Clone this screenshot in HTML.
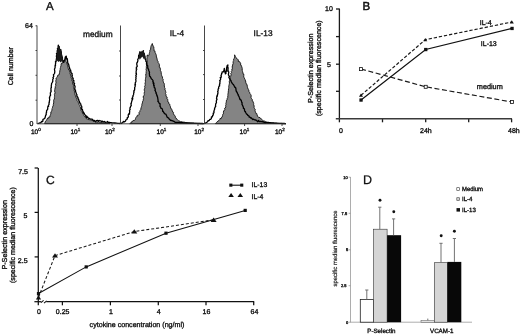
<!DOCTYPE html>
<html><head><meta charset="utf-8">
<style>
html,body{margin:0;padding:0;background:#fff;width:520px;height:334px;overflow:hidden}
svg{display:block;filter:grayscale(1)}
text{font-family:"Liberation Sans",sans-serif;text-rendering:geometricPrecision;fill:#111;stroke:#111;stroke-width:0.34px}
</style></head><body>
<svg width="520" height="334" viewBox="0 0 520 334">
<!-- ================= PANEL A ================= -->
<text x="46" y="9.6" font-size="11.5" style="stroke-width:0.35px">A</text>
<text x="25.1" y="28.2" font-size="7">64</text>
<text x="29.4" y="125.7" font-size="7">0</text>
<text transform="translate(12.8,85.3) rotate(-90)" font-size="7.1">Cell number</text>

<!--HIST-START-->
<polygon fill="#848484" stroke="#111" stroke-width="0.9" stroke-linejoin="round" points="44.5,123.6 44.9,122.9 45.2,121.8 45.9,121.0 46.2,120.6 46.5,120.0 47.1,119.2 47.7,118.0 48.5,118.3 48.9,116.9 49.8,117.1 50.1,115.6 50.6,114.4 50.9,113.8 50.6,112.7 51.1,112.7 51.3,111.6 51.8,110.5 52.0,109.3 51.9,108.6 52.5,108.0 52.5,107.4 52.8,106.2 53.3,105.8 53.0,104.9 53.4,104.4 53.6,102.9 53.9,101.8 53.7,101.8 53.6,100.6 53.6,100.0 54.3,99.1 54.5,98.0 54.4,97.5 54.4,96.5 54.7,96.3 54.5,95.2 54.3,94.4 54.8,94.0 55.0,92.3 54.8,92.0 54.6,90.9 54.8,89.6 54.8,89.6 55.0,88.1 55.3,88.0 55.1,86.6 55.5,86.3 55.8,85.4 55.5,84.0 55.7,83.7 56.2,82.0 55.7,81.2 55.8,80.6 56.2,79.5 55.9,78.8 56.2,78.1 57.2,77.2 57.5,76.1 58.1,74.8 58.8,75.0 59.3,74.4 59.4,72.9 59.7,72.2 59.8,70.6 60.1,69.9 60.3,69.0 60.2,68.2 60.4,67.7 60.5,67.4 61.0,65.6 61.0,64.8 61.2,63.5 62.1,63.8 62.3,62.5 63.0,61.5 63.8,60.7 64.7,59.6 64.7,59.5 65.5,57.6 66.3,56.9 66.3,59.1 66.4,59.7 65.9,60.3 66.1,61.8 66.7,62.8 66.8,63.2 67.4,65.1 67.7,65.9 67.9,66.8 67.8,67.4 68.2,67.6 68.3,68.7 68.8,70.1 69.6,70.6 69.9,72.1 70.2,72.3 70.0,73.2 70.3,74.1 70.8,75.8 71.1,76.1 71.2,77.3 70.9,77.9 71.7,78.8 71.9,79.3 71.8,80.5 72.3,81.4 72.9,81.7 72.6,83.1 73.0,83.0 72.8,83.8 73.5,85.4 73.1,86.2 73.8,86.8 73.5,87.5 73.5,87.6 74.2,89.2 74.1,90.4 74.3,91.2 74.7,91.3 74.5,92.3 74.7,93.4 75.0,94.0 75.1,95.4 75.5,95.6 75.9,97.0 76.1,97.8 76.5,98.0 76.8,98.2 77.1,99.1 77.1,100.6 77.5,101.0 78.2,101.8 78.3,102.5 78.7,103.6 78.7,104.1 79.1,104.5 79.8,105.5 79.9,106.6 80.4,107.0 80.5,107.9 80.6,108.9 80.9,109.5 81.2,110.8 81.7,111.4 82.3,111.4 82.3,112.9 83.0,112.7 82.9,113.9 83.3,114.4 83.8,115.7 84.8,116.6 84.9,117.0 85.7,116.9 86.4,118.6 86.7,119.0 87.7,119.0 89.0,119.9 89.2,119.7 90.4,119.9 91.0,120.2 92.3,120.1 93.0,120.9 93.5,121.0 94.7,121.4 95.1,122.1 96.4,122.3 96.7,121.6 97.5,122.4 98.4,121.7 99.4,122.3 100.2,122.5 101.0,122.6 101.8,122.7 102.7,122.8 103.5,122.9 104.3,123.0 105.2,123.1 106.0,123.2 106.8,123.3 107.6,123.4 108.4,123.4 109.2,123.5 110.0,123.6"/>
<polyline fill="none" stroke="#000" stroke-width="1.3" stroke-linejoin="round" points="37.5,123.6 38.3,123.3 39.2,123.1 40.0,122.8 40.6,122.9 41.7,121.5 41.8,121.9 42.9,121.1 42.9,119.4 43.9,119.2 43.8,119.1 45.0,118.0 45.2,117.1 45.4,116.3 45.9,114.8 46.2,114.8 46.2,112.9 46.6,112.2 46.5,111.3 46.6,110.6 47.1,110.0 47.7,109.2 47.7,108.2 47.8,107.2 47.9,106.5 48.6,106.4 48.3,105.6 49.1,104.2 49.1,103.9 49.0,103.6 49.1,102.3 49.4,102.2 49.3,101.1 49.7,100.0 49.6,98.8 49.4,97.7 49.6,97.7 49.9,96.1 49.8,96.3 50.6,95.2 50.3,93.8 50.4,93.3 50.4,92.5 50.6,92.4 51.3,91.0 50.9,90.7 51.0,89.0 50.9,88.2 51.4,87.5 51.3,86.6 51.3,85.4 51.5,84.7 51.6,83.3 52.0,82.8 52.4,82.3 52.7,81.6 52.8,81.1 52.7,79.5 53.4,78.4 53.3,78.2 52.9,77.7 53.7,76.6 53.7,76.0 53.4,74.8 53.8,74.5 54.5,73.5 54.7,72.5 54.8,71.4 54.5,69.7 54.5,69.3 54.5,69.1 55.0,68.0 55.1,67.3 55.1,65.5 55.5,65.7 55.4,64.6 55.6,63.2 55.8,62.7 55.4,61.9 56.1,61.0 56.2,61.3 56.2,59.6 56.3,59.3 56.6,58.3 56.6,56.7 56.3,56.2 56.8,55.4 56.8,54.2 56.4,53.7 57.1,53.5 57.2,52.1 57.2,51.6 57.3,50.3 57.7,49.6 58.0,49.8 57.4,48.3 58.3,48.2 58.1,46.3 58.1,46.5 58.3,45.1 58.4,46.0 59.2,46.5 59.3,48.0 59.4,49.1 58.9,50.2 59.2,49.8 58.8,51.3 59.3,51.9 59.1,52.8 59.4,52.5 59.3,51.4 60.2,49.5 60.9,49.8 61.0,50.0 60.7,51.0 61.4,52.1 61.1,52.9 61.3,53.4 61.5,55.5 61.8,56.6 62.0,56.7 62.4,57.6 62.4,59.6 63.0,60.4 62.9,61.6 63.8,62.4 64.4,60.4 64.8,59.8 65.2,59.0 65.2,57.1 66.1,56.1 66.4,56.9 66.5,58.4 67.4,58.8 67.4,59.8 67.6,61.0 67.6,61.6 67.9,63.7 68.4,63.7 69.0,65.8 68.9,65.6 68.9,66.4 69.4,67.2 69.6,68.3 70.2,70.0 70.7,70.1 70.7,71.1 71.0,71.9 71.0,72.8 72.1,73.6 71.9,75.1 72.4,75.3 72.0,76.1 72.3,77.2 73.0,78.6 73.2,78.3 72.9,80.1 73.9,80.6 73.8,80.7 73.8,82.8 74.4,83.5 74.6,83.4 74.1,84.1 74.6,85.7 75.1,86.5 74.9,87.4 74.9,87.9 74.7,89.0 75.1,90.1 75.6,90.1 75.4,90.9 76.0,92.4 75.8,92.3 76.4,93.8 76.5,94.1 76.9,94.6 76.8,96.0 77.7,97.1 78.0,97.6 77.8,98.0 78.7,99.4 78.5,99.2 78.9,100.8 79.2,101.0 79.7,102.7 79.7,102.2 80.1,103.5 80.7,103.9 81.0,105.4 81.1,105.5 81.7,106.4 81.8,107.1 81.6,108.7 81.9,109.7 82.4,109.4 82.6,110.4 83.3,111.9 83.2,111.9 83.7,113.4 84.1,112.9 84.5,114.2 85.6,115.6 86.0,116.4 86.7,116.1 86.5,117.6 87.5,116.9 88.3,117.9 88.9,118.4 89.5,118.4 90.5,119.2 91.9,119.2 92.8,119.6 93.2,120.8 94.5,120.5 94.6,120.7 95.7,121.4 96.4,120.7 97.8,120.3 98.2,121.5 99.3,120.5 99.5,120.6 101.1,121.0 101.8,122.0 102.2,121.2 103.6,121.8 103.8,122.0 104.6,121.5 105.2,122.3 106.7,122.2 107.6,121.5 107.8,122.3 108.8,122.4 109.6,122.5 110.4,122.6 111.2,122.7 112.0,122.8 112.8,122.9 113.6,122.9 114.4,123.0 115.2,123.0 116.0,123.1 116.8,123.2 117.6,123.3 118.4,123.3 119.2,123.4 120.0,123.5"/>
<polygon fill="#848484" stroke="#111" stroke-width="0.9" stroke-linejoin="round" points="129.7,123.6 130.5,122.9 131.6,122.8 131.9,121.3 132.8,121.1 134.0,120.2 134.7,120.3 135.3,119.6 135.6,118.3 135.9,117.6 136.8,116.5 136.9,116.7 137.4,115.2 137.8,115.2 138.5,115.1 139.2,114.3 139.0,112.5 139.2,112.2 139.9,111.4 139.8,110.7 140.4,110.2 140.8,109.5 141.0,107.8 141.4,107.2 141.5,106.4 141.9,105.3 141.8,104.5 141.9,104.4 142.4,102.9 142.4,102.9 142.7,101.2 143.1,100.8 143.4,99.4 143.2,99.4 143.6,98.6 143.2,97.0 143.4,96.0 144.1,95.6 144.3,94.5 144.4,93.7 144.0,93.3 144.6,91.6 144.5,91.4 144.3,90.2 144.3,89.2 144.5,88.8 144.9,87.5 144.5,86.8 145.1,85.7 144.9,84.9 145.3,84.4 144.9,83.0 145.2,82.7 145.5,81.3 145.2,81.1 145.4,79.7 145.4,79.7 145.5,78.5 145.6,77.5 146.0,77.4 145.8,75.6 146.1,74.8 145.6,74.9 146.0,74.0 146.1,73.3 146.2,71.6 145.9,71.3 146.4,70.9 146.0,69.7 146.3,68.8 146.1,67.7 146.5,67.7 146.2,66.4 146.7,66.2 146.3,64.4 146.9,64.6 146.6,62.6 147.0,62.2 147.0,61.6 147.0,60.2 147.0,59.4 146.8,59.3 147.1,57.6 146.8,57.0 147.2,56.1 147.1,55.1 147.7,55.0 147.6,55.6 148.5,55.9 148.8,55.2 149.0,54.9 149.3,53.8 149.3,53.3 149.5,52.6 149.8,51.5 149.7,50.9 150.2,49.7 150.6,49.5 150.7,47.9 150.9,46.9 150.9,46.4 151.2,45.6 151.9,44.3 152.3,43.5 152.7,45.2 152.9,45.1 153.2,46.4 153.8,46.8 153.9,48.7 154.1,49.2 153.9,50.2 154.4,51.0 154.9,50.8 155.1,52.7 155.0,52.9 155.8,53.6 156.1,54.6 156.3,55.2 156.4,57.0 156.4,57.0 157.0,58.1 157.0,58.9 157.5,60.8 158.2,61.7 158.1,62.4 158.4,63.0 159.0,63.7 159.4,64.8 159.4,66.1 159.2,67.1 159.8,67.2 160.1,68.0 160.5,69.2 160.2,70.3 160.5,70.5 160.9,71.2 161.2,72.3 161.3,74.1 161.5,74.6 161.6,74.7 161.7,75.7 162.4,76.9 162.6,78.5 162.6,78.7 163.2,79.4 163.0,80.7 163.3,81.6 163.6,82.8 164.1,83.2 164.4,84.5 164.2,85.9 164.4,85.9 164.5,87.4 165.2,88.4 165.0,88.7 164.9,90.0 165.4,90.4 165.6,91.3 165.9,92.5 165.5,93.5 165.5,93.8 166.0,94.4 166.0,96.0 166.3,96.6 167.2,97.1 166.9,98.4 167.4,99.3 167.9,99.5 167.8,100.5 167.9,102.0 168.9,102.6 168.7,103.6 169.6,104.0 169.9,104.9 169.9,105.4 170.3,106.2 170.7,108.0 171.3,109.0 171.8,109.2 172.0,110.2 172.5,111.1 172.5,112.0 173.3,112.2 173.6,112.7 173.4,113.7 174.3,115.3 174.7,115.4 175.3,116.2 175.3,117.7 176.3,118.2 177.0,119.3 177.5,119.9 178.3,120.5 178.9,121.0 179.7,121.1 180.3,121.6 181.1,122.2 182.0,121.3 182.8,122.6 183.9,121.9 184.9,122.4 185.7,122.5 186.6,122.6 187.4,122.6 188.3,122.7 189.1,122.8 190.0,122.9 190.9,123.0 191.7,123.0 192.6,123.1 193.4,123.1 194.3,123.2 195.1,123.2 196.0,123.3 196.9,123.3 197.8,123.4 198.6,123.4 199.5,123.4 200.4,123.5 201.2,123.5 202.1,123.6 203.0,123.6"/>
<polyline fill="none" stroke="#000" stroke-width="1.3" stroke-linejoin="round" points="120.6,123.6 121.3,123.3 122.1,122.9 122.8,122.6 123.3,121.5 124.7,121.8 125.5,121.1 125.8,120.1 126.6,119.5 127.4,118.7 127.2,117.8 128.4,117.0 128.2,115.0 128.7,113.8 129.5,114.0 129.5,113.2 129.7,111.5 129.5,110.3 130.2,109.6 130.0,109.0 129.9,107.9 130.3,107.7 130.6,106.3 131.2,105.7 131.3,105.0 130.8,103.8 131.3,103.5 131.4,102.6 131.8,101.1 132.2,100.1 132.4,99.4 131.9,98.6 132.8,98.8 132.4,97.3 133.0,96.8 133.0,95.5 133.4,95.1 133.6,94.4 133.7,92.6 134.2,92.1 133.8,91.4 133.9,90.8 134.6,90.0 134.7,88.5 134.6,87.7 135.1,86.4 135.3,85.5 134.8,84.9 135.5,84.4 135.2,84.0 135.3,82.6 135.7,82.1 136.0,81.1 135.8,79.8 135.7,79.6 136.1,78.6 135.8,77.3 136.3,76.7 135.8,75.7 136.5,74.5 135.9,73.7 136.4,73.6 136.0,71.8 136.2,71.2 136.4,70.1 136.3,69.3 136.9,69.2 136.3,68.6 136.4,67.0 137.2,66.7 137.1,65.3 136.8,64.8 136.8,63.3 137.2,62.2 137.3,62.4 137.8,61.1 137.9,60.1 137.7,59.4 138.1,58.7 138.7,57.4 138.6,57.0 138.6,55.4 139.0,55.4 139.2,54.3 139.6,53.3 139.8,51.9 139.8,53.2 139.8,53.9 140.6,55.3 140.7,53.8 140.7,53.2 141.0,52.2 141.2,52.1 141.1,52.5 141.8,52.9 141.8,54.5 141.8,53.0 142.2,52.4 143.5,50.8 142.9,51.7 143.5,52.7 143.6,53.4 144.1,54.0 144.3,53.8 144.3,54.4 144.7,55.5 144.6,56.7 145.0,56.4 145.1,57.7 145.1,58.6 145.6,59.8 145.8,60.0 145.9,61.5 146.8,62.0 146.4,63.3 146.8,63.3 146.9,64.9 147.7,65.7 147.7,66.6 147.8,68.1 148.1,68.6 148.7,69.7 148.6,69.8 148.8,70.5 149.3,71.7 149.5,72.6 149.3,73.5 149.5,74.4 149.6,76.2 150.3,76.6 150.9,77.9 151.5,79.0 152.3,79.5 153.2,81.0 152.7,81.8 153.6,82.6 153.2,83.6 153.9,83.3 153.6,85.4 154.3,85.3 154.0,85.9 154.3,87.6 154.6,87.5 155.3,89.3 154.9,90.3 155.5,91.0 155.7,92.1 156.2,92.7 156.0,93.3 156.6,94.1 156.8,95.3 157.1,95.3 157.1,96.1 157.5,96.9 157.7,97.9 157.9,99.2 158.1,100.6 157.9,101.5 158.6,101.9 159.1,103.1 159.2,103.3 160.0,103.7 160.1,105.3 159.9,106.1 160.8,107.4 160.9,108.3 161.5,108.5 162.3,108.8 162.6,110.5 162.8,111.5 163.3,111.7 164.0,112.9 164.3,113.1 164.9,113.9 165.8,114.2 166.3,115.0 166.5,115.5 167.2,117.3 168.0,117.8 168.5,117.9 169.1,118.9 170.1,119.8 170.3,120.3 171.8,120.5 171.9,120.5 172.6,120.8 174.4,121.7 175.1,122.3 176.3,122.4 176.9,122.4 177.6,122.3 178.4,122.4 179.2,122.4 180.0,122.5 180.9,122.6 181.7,122.6 182.6,122.7 183.4,122.8 184.3,122.9 185.1,122.9 186.0,123.0 186.8,123.0 187.6,123.1 188.5,123.1 189.3,123.1 190.1,123.1 190.9,123.2 191.7,123.2 192.5,123.2 193.4,123.2 194.2,123.3 195.0,123.3 195.8,123.3 196.6,123.4 197.5,123.4 198.3,123.4 199.1,123.4 199.9,123.5 200.7,123.5 201.5,123.5 202.4,123.5 203.2,123.6 204.0,123.6"/>
<polygon fill="#848484" stroke="#111" stroke-width="0.9" stroke-linejoin="round" points="215.3,123.6 215.9,123.0 216.4,122.5 217.1,122.0 218.1,120.9 219.1,120.5 219.9,119.3 220.1,118.4 221.2,118.7 221.6,117.2 222.3,116.9 222.6,115.4 222.7,114.7 223.0,113.8 223.5,113.5 223.4,112.2 223.7,110.7 224.5,110.4 224.9,109.4 224.5,108.4 225.2,108.2 225.8,106.8 225.6,105.4 226.0,104.7 225.8,103.6 225.9,103.5 226.1,102.9 226.3,101.9 226.5,100.1 227.1,99.5 227.3,98.6 227.0,98.5 227.7,97.7 227.8,95.9 227.9,95.8 227.9,95.2 227.9,94.3 228.3,92.3 228.0,92.2 228.6,90.7 228.4,90.7 228.4,90.0 228.7,88.3 228.7,88.1 228.8,87.4 228.7,86.6 228.9,85.6 229.2,84.5 229.1,84.1 229.5,83.2 229.3,81.8 229.1,81.8 229.7,80.8 229.6,79.7 230.2,79.2 230.1,77.8 230.2,77.7 230.5,76.7 230.8,76.1 231.1,74.4 230.7,73.5 231.2,73.0 231.6,72.5 231.2,71.5 231.9,70.6 231.9,69.0 232.3,68.8 232.3,68.0 232.2,66.1 232.6,66.1 232.5,65.1 233.2,63.6 233.1,63.2 233.1,61.8 233.1,61.7 233.7,60.6 233.3,60.2 234.0,58.7 234.1,58.5 234.6,57.1 234.5,56.3 234.6,54.8 235.5,56.7 236.1,57.6 236.5,58.5 237.2,58.7 238.4,60.0 238.2,61.4 239.8,61.8 240.2,62.8 240.7,63.2 240.6,65.2 241.4,65.4 241.4,65.9 241.8,66.9 242.2,68.3 242.3,69.6 242.1,69.4 242.3,70.5 242.5,71.3 243.0,73.1 243.2,74.2 243.8,74.1 243.8,75.4 243.7,77.1 244.1,77.5 244.7,78.9 245.0,79.2 245.2,79.9 245.8,81.8 245.6,81.6 245.9,82.9 246.7,84.5 247.0,84.5 247.3,86.3 247.6,87.6 247.5,87.6 248.4,89.5 248.7,89.8 249.0,91.1 248.9,91.4 249.3,91.9 249.8,92.8 250.0,93.7 250.7,94.5 251.2,95.6 251.0,97.5 251.5,98.5 252.4,99.5 252.1,99.8 252.4,101.2 253.2,101.6 253.2,102.1 253.6,103.2 253.7,103.7 253.6,104.5 254.2,106.1 254.0,107.4 254.4,107.9 254.6,108.7 255.3,109.6 255.0,110.6 255.4,111.9 255.6,112.7 255.8,113.3 256.6,113.3 256.9,114.1 257.1,114.8 257.6,116.5 258.7,117.3 258.7,117.3 260.0,117.6 260.5,118.5 261.3,118.7 261.9,119.6 262.1,119.7 263.2,120.8 263.5,121.0 264.8,121.1 265.3,121.3 265.8,122.4 266.8,122.4 267.6,122.5 268.4,122.6 269.3,122.6 270.1,122.7 270.9,122.8 271.7,122.9 272.5,123.0 273.4,123.0 274.2,123.1 275.0,123.2 275.8,123.2 276.7,123.3 277.5,123.3 278.4,123.3 279.2,123.4 280.1,123.4 280.9,123.4 281.8,123.4 282.6,123.5 283.5,123.5 284.3,123.5 285.2,123.6 286.0,123.6"/>
<polyline fill="none" stroke="#000" stroke-width="1.3" stroke-linejoin="round" points="204.3,123.6 205.2,123.2 206.0,122.7 206.8,122.3 207.8,121.5 208.0,120.7 209.2,120.6 209.7,119.4 210.7,119.3 211.4,118.4 211.4,117.0 212.4,116.8 212.6,115.5 213.0,115.1 213.3,115.1 213.2,113.1 213.8,113.0 214.1,111.8 213.8,111.7 214.3,109.9 214.6,109.6 214.5,108.7 215.0,107.8 214.9,107.2 215.7,106.6 215.5,105.5 215.7,104.7 215.6,104.0 216.5,102.6 216.3,101.8 216.5,100.2 217.0,99.6 216.5,98.5 216.7,98.6 216.7,96.7 217.4,96.0 217.0,95.6 217.6,94.6 217.8,93.1 218.1,93.1 217.6,91.4 218.1,91.0 218.1,89.5 218.4,88.5 218.7,88.5 218.6,87.2 219.3,85.8 219.6,86.0 219.5,84.4 220.0,83.6 219.7,83.3 220.1,81.6 219.7,80.7 219.9,80.7 220.5,79.7 220.7,78.8 220.2,77.5 221.4,77.1 221.0,75.6 221.5,74.6 221.6,73.4 222.0,73.3 222.1,72.0 223.3,71.9 223.8,70.7 224.0,70.3 224.3,68.3 224.5,69.7 224.8,70.7 225.0,72.6 225.3,72.7 225.4,73.9 226.1,73.0 225.9,72.7 225.9,71.8 226.8,70.9 226.3,70.1 226.7,68.8 226.5,68.0 226.8,67.4 227.0,66.3 227.1,65.8 227.9,65.0 227.8,65.9 227.6,66.8 227.9,67.4 228.2,68.1 228.0,68.6 228.0,69.9 228.2,70.8 228.0,71.3 228.8,72.0 228.6,73.2 228.4,74.7 228.6,75.3 228.6,75.1 229.4,76.5 228.8,77.3 229.6,78.8 229.9,79.1 231.1,80.8 231.0,81.3 231.8,82.7 232.6,84.0 233.3,84.3 233.8,85.3 234.3,86.0 234.8,87.3 235.4,87.4 235.8,88.1 236.0,89.7 236.1,91.0 236.5,91.1 237.0,92.5 237.3,92.8 237.6,93.8 238.2,94.5 238.3,95.6 238.7,96.0 239.4,97.5 239.5,97.6 239.6,98.3 240.0,99.5 240.7,99.6 241.4,100.8 241.7,102.5 242.1,102.6 242.0,104.6 242.0,104.3 242.8,105.9 243.4,107.2 243.4,108.3 243.8,108.4 244.4,109.0 244.5,110.1 244.8,111.3 245.5,111.5 245.3,112.0 246.0,113.0 246.5,114.1 247.5,114.4 247.7,115.4 248.9,115.8 249.2,117.0 249.5,116.8 250.8,118.1 251.0,117.7 252.1,118.8 252.8,119.6 253.6,119.1 253.7,119.3 254.9,120.0 255.6,119.9 256.9,120.8 257.6,121.7 258.7,120.5 259.3,121.7 260.1,121.7 260.7,121.4 262.3,121.9 262.9,121.5 263.6,122.1 264.2,122.3 265.2,122.9 266.1,122.2 266.8,122.4 267.6,122.5 268.4,122.5 269.2,122.6 270.0,122.7 270.9,122.8 271.7,122.8 272.6,122.9 273.4,123.0 274.3,123.1 275.1,123.1 276.0,123.2 276.8,123.2 277.7,123.3 278.5,123.3 279.3,123.3 280.2,123.4 281.0,123.4 281.8,123.4 282.7,123.5 283.5,123.5 284.3,123.5 285.2,123.6 286.0,123.6"/>
<polygon fill="#1a1a1a" points="56.4,60.0 57.0,52.0 58.0,47.5 58.6,45.5 59.5,48.0 61.0,50.0 62.0,54.0 62.8,58.0 63.0,61.0 61.5,61.5 60.5,62.5 59.5,61.0 58.5,62.0 57.5,61.0"/>
<polygon fill="#1a1a1a" points="138.5,58.5 138.9,55.0 139.3,52.5 139.8,51.0 140.3,53.0 140.8,51.8 141.3,50.5 141.8,52.5 142.3,51.5 142.9,50.3 143.4,52.0 143.9,51.3 144.5,53.5 145.0,55.5 145.4,58.5 144.8,59.8 144.2,58.0 143.6,59.2 143.0,57.5 142.4,56.5 141.8,58.0 141.2,57.0 140.6,59.5 140.0,58.0 139.3,59.7"/>
<!--HIST-END-->
<!-- axes panel A -->
<g stroke="#333" stroke-width="0.9" fill="none">
<line x1="37" y1="25.5" x2="37" y2="124"/>
<line x1="35.5" y1="25.8" x2="37" y2="25.8"/>
<line x1="35.5" y1="50.5" x2="37" y2="50.5"/>
<line x1="35.5" y1="75.3" x2="37" y2="75.3"/>
<line x1="35.5" y1="100.2" x2="37" y2="100.2"/>
<line x1="120.5" y1="25.5" x2="120.5" y2="124"/>
<line x1="119" y1="51" x2="120.5" y2="51"/>
<line x1="119" y1="76" x2="120.5" y2="76"/>
<line x1="119" y1="100" x2="120.5" y2="100"/>
<line x1="204.5" y1="25.5" x2="204.5" y2="124"/>
<line x1="203" y1="50.5" x2="204.5" y2="50.5"/>
<line x1="203" y1="74.6" x2="204.5" y2="74.6"/>
<line x1="203" y1="99.5" x2="204.5" y2="99.5"/>
<line x1="37.3" y1="123.8" x2="286" y2="123.8"/>
<line x1="77" y1="123.8" x2="77" y2="126"/>
<line x1="112" y1="123.8" x2="112" y2="126"/>
<line x1="160.3" y1="123.8" x2="160.3" y2="126"/>
<line x1="198" y1="123.8" x2="198" y2="126"/>
<line x1="244.6" y1="123.8" x2="244.6" y2="126"/>
<line x1="282" y1="123.8" x2="282" y2="126"/>
</g>
<g font-size="6.5">
<text x="31" y="133.8">10<tspan font-size="4.5" dy="-2.5">0</tspan></text>
<text x="70.5" y="133.8">10<tspan font-size="4.5" dy="-2.5">1</tspan></text>
<text x="105" y="133.8">10<tspan font-size="4.5" dy="-2.5">2</tspan></text>
<text x="156.6" y="133.8">10<tspan font-size="4.5" dy="-2.5">1</tspan></text>
<text x="194.2" y="133.8">10<tspan font-size="4.5" dy="-2.5">2</tspan></text>
<text x="239.6" y="133.8">10<tspan font-size="4.5" dy="-2.5">1</tspan></text>
<text x="275" y="133.8">10<tspan font-size="4.5" dy="-2.5">2</tspan></text>
</g>
<g font-size="8.3" style="stroke-width:0.5px">
<text x="83" y="36.5" textLength="29.6" lengthAdjust="spacingAndGlyphs">medium</text>
<text x="169.8" y="36.4">IL-4</text>
<text x="253.6" y="36.4">IL-13</text>
</g>

<!-- ================= PANEL B ================= -->
<text x="362.5" y="9.6" font-size="11.5" style="stroke-width:0.5px">B</text>
<g font-size="7">
<text x="325" y="10.8">10</text>
<text x="327" y="66.5">5</text>
<text x="339" y="133.3">0</text>
<text x="420" y="133.3">24h</text>
<text x="508" y="133.3">48h</text>
<text x="479.7" y="24.5">IL-4</text>
<text x="480.8" y="45.8">IL-13</text>
<text x="476.8" y="89.3" font-size="7.3">medium</text>
</g>
<text transform="translate(313,103) rotate(-90)" font-size="7.2">P-Selectin expression</text>
<text transform="translate(321.3,116.1) rotate(-90)" font-size="7.1">(specific median fluorescence)</text>
<g stroke="#1a1a1a" stroke-width="1.3" fill="none">
<line x1="339.4" y1="8.6" x2="339.4" y2="122.3"/>
<line x1="336" y1="9" x2="339.4" y2="9"/>
<line x1="336" y1="36.6" x2="339.4" y2="36.6"/>
<line x1="336" y1="64.2" x2="339.4" y2="64.2"/>
<line x1="336" y1="91.3" x2="339.4" y2="91.3"/>
<line x1="382.5" y1="118.8" x2="382.5" y2="122.3"/>
<line x1="425.7" y1="118.8" x2="425.7" y2="122.3"/>
<line x1="468.7" y1="118.8" x2="468.7" y2="122.3"/>
<line x1="511.6" y1="118.8" x2="511.6" y2="122.3"/>
</g>
<line x1="335.8" y1="118.8" x2="512" y2="118.8" stroke="#3a3a3a" stroke-width="1.4"/>
<!-- medium -->
<polyline fill="none" stroke="#1a1a1a" stroke-width="1.15" stroke-dasharray="5 2.6" points="361,69 425.7,86.8 512,102"/>
<!-- IL-4 -->
<polyline fill="none" stroke="#1a1a1a" stroke-width="1.2" stroke-dasharray="3.3 1.9" points="361,95.3 425.3,39.7 511.8,22"/>
<!-- IL-13 -->
<polyline fill="none" stroke="#111" stroke-width="1.25" points="361,100 425.7,49.5 512,28.4"/>
<g fill="#fff" stroke="#111" stroke-width="0.8">
<rect x="359.5" y="67.6" width="3" height="3"/>
<rect x="424.2" y="85.3" width="3" height="3"/>
<rect x="510.5" y="100.5" width="3" height="3"/>
</g>
<g fill="#111">
<rect x="359.4" y="98.4" width="3.3" height="3.3"/>
<rect x="424.1" y="47.9" width="3.3" height="3.3"/>
<rect x="510.4" y="26.8" width="3.3" height="3.3"/>
<polygon points="361,93.5 363,96.8 359,96.8"/>
<polygon points="425.3,38 427.3,41.3 423.3,41.3"/>
<polygon points="511.8,20.3 513.8,23.6 509.8,23.6"/>
</g>

<!-- ================= PANEL C ================= -->
<text x="45.9" y="183.7" font-size="12" style="stroke-width:0.35px">C</text>
<g font-size="7">
<text x="18.2" y="174">7.5</text>
<text x="23.6" y="217.7">5</text>
<text x="17.8" y="262.7">2.5</text>
<text x="37" y="314.3">0</text>
<text x="55.8" y="314.3">0.25</text>
<text x="109" y="314.3">1</text>
<text x="156.8" y="314.3">4</text>
<text x="202.6" y="314.3">16</text>
<text x="250.6" y="314.3">64</text>
</g>
<text x="89.6" y="327.2" font-size="7.2" textLength="94.8" lengthAdjust="spacingAndGlyphs">cytokine concentration (ng/ml)</text>
<text transform="translate(6.6,269.6) rotate(-90)" font-size="7.2">P-Selectin expression</text>
<text transform="translate(15,283) rotate(-90)" font-size="7.1">(specific median fluorescence)</text>
<g stroke="#111" stroke-width="1.25" fill="none">
<line x1="38.3" y1="167.9" x2="38.3" y2="305.3"/>
<line x1="34.6" y1="168" x2="38.1" y2="168"/>
<line x1="34.6" y1="212.4" x2="38.1" y2="212.4"/>
<line x1="34.6" y1="256.9" x2="38.1" y2="256.9"/>
<line x1="34.4" y1="301.7" x2="41.2" y2="301.7"/>
<line x1="46.3" y1="301.7" x2="254.2" y2="301.7"/>
<line x1="62.4" y1="301.7" x2="62.4" y2="305.3"/>
<line x1="110.4" y1="301.7" x2="110.4" y2="305.3"/>
<line x1="158.3" y1="301.7" x2="158.3" y2="305.3"/>
<line x1="206" y1="301.7" x2="206" y2="305.3"/>
<line x1="253.7" y1="301.7" x2="253.7" y2="305.3"/>
</g>
<g stroke="#111" stroke-width="1.05"><line x1="41" y1="302.6" x2="43.6" y2="300.3"/><line x1="44" y1="303.1" x2="46.7" y2="300.8"/></g>
<polyline fill="none" stroke="#1a1a1a" stroke-width="1.05" stroke-dasharray="3 2" points="38.4,297.5 55,255.6 134.2,231.6 213.6,219.9"/>
<polyline fill="none" stroke="#111" stroke-width="1.05" points="38.5,293.5 86.2,266.9 166,233.2 245.2,210.4"/>
<g fill="#111">
<rect x="36.9" y="292" width="3.2" height="3.2"/>
<rect x="84.6" y="265.3" width="3.2" height="3.2"/>
<rect x="164.4" y="231.6" width="3.2" height="3.2"/>
<rect x="243.6" y="208.8" width="3.2" height="3.2"/>
<polygon points="38.5,295.2 41.1,299.6 35.9,299.6"/>
<polygon points="55,253.2 58,257.6 52,257.6"/>
<polygon points="134.3,229.2 137.3,233.6 131.3,233.6"/>
<polygon points="213.6,217.5 216.6,221.9 210.6,221.9"/>
<!-- legend -->
<rect x="229.3" y="183.6" width="3.1" height="3.1"/>
<rect x="240.2" y="183.6" width="3.1" height="3.1"/>
<polygon points="231.1,192.9 233.9,197 228.3,197"/>
<polygon points="240.3,192.9 243.1,197 237.5,197"/>
</g>
<line x1="231" y1="185.2" x2="241.6" y2="185.2" stroke="#111" stroke-width="1.1"/>
<g font-size="7">
<text x="251.6" y="187.3" textLength="15.6" lengthAdjust="spacingAndGlyphs">IL-13</text>
<text x="251.6" y="198.7" textLength="11.8" lengthAdjust="spacingAndGlyphs">IL-4</text>
</g>

<!-- ================= PANEL D ================= -->
<text x="362.9" y="184.3" font-size="12.5" style="stroke-width:0.25px">D</text>
<g font-size="4" fill="#444" style="stroke:none">
<text x="343.2" y="178.5">10</text>
<text x="341.6" y="214.6">7.5</text>
<text x="346" y="251.2">5</text>
<text x="341" y="286.8">2.5</text>
<text x="346" y="323.5">0</text>
</g>
<text transform="translate(337.3,286.5) rotate(-90)" font-size="5.95" textLength="76" lengthAdjust="spacingAndGlyphs" style="stroke:#222;stroke-width:0.2px;fill:#222">specific median fluorescence</text>
<g stroke="#8a8a8a" stroke-width="0.7" fill="none">
<line x1="350.5" y1="177" x2="350.5" y2="322.4"/>
<line x1="348.6" y1="177.2" x2="350.5" y2="177.2"/>
<line x1="348.6" y1="213.3" x2="350.5" y2="213.3"/>
<line x1="348.6" y1="249.8" x2="350.5" y2="249.8"/>
<line x1="348.6" y1="285.7" x2="350.5" y2="285.7"/>
<line x1="348.6" y1="322.2" x2="472" y2="322.2"/>
</g>
<!-- bars -->
<rect x="360.3" y="299.4" width="13.3" height="22.8" fill="#fff" stroke="#222" stroke-width="0.8"/>
<rect x="373.6" y="229.2" width="13.5" height="93" fill="#d5d5d5" stroke="#333" stroke-width="0.6"/>
<rect x="387.1" y="235.2" width="14" height="87" fill="#080808"/>
<rect x="421" y="320.4" width="13.4" height="1.8" fill="#e8e8e8" stroke="#555" stroke-width="0.5"/>
<rect x="434.3" y="262.7" width="13" height="59.5" fill="#d5d5d5" stroke="#333" stroke-width="0.6"/>
<rect x="447.3" y="261.9" width="14" height="60.3" fill="#080808"/>
<!-- error bars -->
<g stroke="#6a6a6a" stroke-width="0.95">
<line x1="366.8" y1="290" x2="366.8" y2="299.4"/><line x1="365.2" y1="290" x2="368.4" y2="290"/>
<line x1="379.8" y1="207.2" x2="379.8" y2="229.2"/><line x1="378.2" y1="207.2" x2="381.4" y2="207.2"/>
<line x1="393.6" y1="218.9" x2="393.6" y2="235.2"/><line x1="392" y1="218.9" x2="395.2" y2="218.9"/>
<line x1="441" y1="243.3" x2="441" y2="262.7"/><line x1="439.4" y1="243.3" x2="442.6" y2="243.3"/>
<line x1="454.4" y1="238.5" x2="454.4" y2="261.9"/><line x1="452.8" y1="238.5" x2="456" y2="238.5"/>
<line x1="427.8" y1="318.6" x2="427.8" y2="320.4"/>
</g>
<g fill="#111">
<circle cx="380" cy="200.3" r="1.45"/>
<circle cx="393.8" cy="211.8" r="1.45"/>
<circle cx="441.2" cy="235.8" r="1.45"/>
<circle cx="454.4" cy="231.3" r="1.45"/>
</g>
<!-- legend D -->
<rect x="456.8" y="187.7" width="2.9" height="2.9" fill="#fff" stroke="#333" stroke-width="0.6"/>
<rect x="456.8" y="197.7" width="2.9" height="2.9" fill="#d0d0d0" stroke="#444" stroke-width="0.6"/>
<rect x="456.5" y="208.1" width="3.5" height="3.5" fill="#111"/>
<g font-size="6.1" style="stroke-width:0.06px">
<text x="462" y="190.8" textLength="21" lengthAdjust="spacingAndGlyphs">Medium</text>
<text x="462" y="201">IL-4</text>
<text x="462" y="211.6">IL-13</text>
</g>
<g font-size="6.2" style="stroke-width:0.08px">
<text x="367.3" y="333">P-Selectin</text>
<text x="430" y="333">VCAM-1</text>
</g>
</svg>
</body></html>
